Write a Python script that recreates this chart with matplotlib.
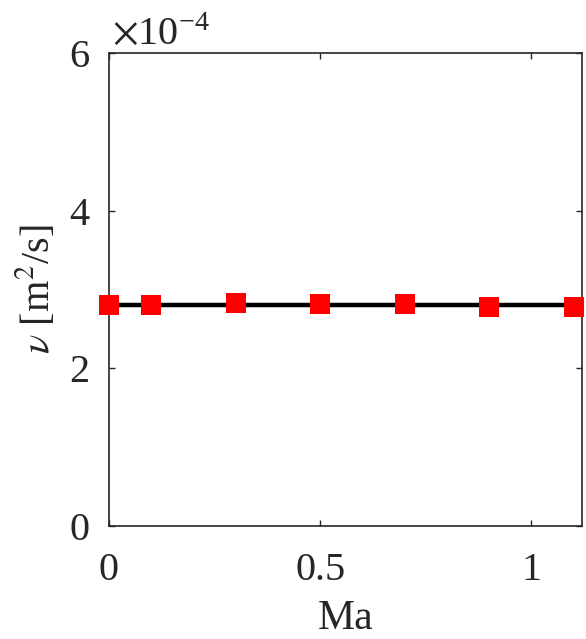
import matplotlib
matplotlib.use("Agg")
import matplotlib.pyplot as plt
from matplotlib.ticker import FuncFormatter

plt.rcParams['font.family'] = ['Liberation Serif', 'DejaVu Serif']
plt.rcParams['mathtext.fontset'] = 'stix'

ma = [0.0, 0.1, 0.3, 0.5, 0.7, 0.9, 1.1]
nu = [2.80e-4, 2.807e-4, 2.826e-4, 2.813e-4, 2.81e-4, 2.782e-4, 2.78e-4]
line_x = [0.0, 1.12]
line_y = [2.8e-4, 2.8e-4]
xticks = [0, 0.5, 1]
xticklabels = ['0', '0.5', '1']
yticks = [0, 2e-4, 4e-4, 6e-4]

fig = plt.figure(figsize=(5.86, 6.39), dpi=100)
ax = fig.add_axes([109/586, (639-526)/639, 473/586, 473/639])
ax.plot(line_x, line_y, color='black', lw=3.2, zorder=2)
ax.plot(ma, nu, linestyle='none', marker='s', markersize=15, color='#ff0000',
        markeredgewidth=0, zorder=3, clip_on=False)
ax.set_xlim(0, 1.12)
ax.set_ylim(0, 6e-4)
ax.set_xticks(xticks)
ax.set_xticklabels(xticklabels)
ax.set_yticks(yticks)
ax.yaxis.set_major_formatter(FuncFormatter(lambda v, p: f"{v/1e-4:g}"))
ax.tick_params(direction='in', length=4, width=1, top=True, right=True,
               labelsize=29, colors='#262626')
ax.tick_params(axis='x', pad=19)
ax.tick_params(axis='y', pad=14)
for s in ax.spines.values():
    s.set_color('#262626')
    s.set_linewidth(1.2)
ax.set_xlabel('Ma', fontsize=30, color='#262626', labelpad=7)
ax.set_ylabel(r'$\nu$ [m$^2$/s]', fontsize=29, color='#262626', labelpad=8)
fig.text(112/586, 1 - 44/639, r'$\times$10$^{\mathregular{-4}}$', fontsize=29,
         color='#262626', ha='left', va='baseline')
fig.savefig('out.png', dpi=100)
